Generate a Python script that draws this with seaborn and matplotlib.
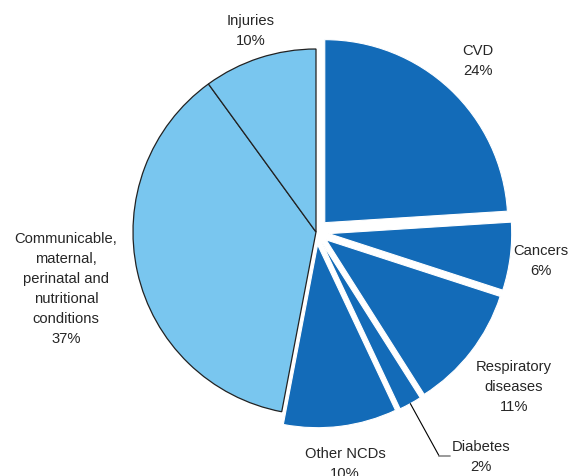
import numpy as np
import seaborn as sns
from matplotlib import pyplot as plt

categories = ["CVD", "Cancers", "Respiratory\ndiseases", "Diabetes", "Other NCDs",
              "Communicable,\nmaternal,\nperinatal and\nnutritional\nconditions", "Injuries"]
shares = [24, 6, 11, 2, 10, 37, 10]
is_ncd = [True, True, True, True, True, False, False]

DARK = "#136bb8"
LIGHT = "#79c6ef"

sns.set_theme(style="white")
plt.rcParams["font.family"] = ["Liberation Sans", "DejaVu Sans"]

fig = plt.figure(figsize=(5.77, 4.77), dpi=100)
ax = fig.add_axes([0, 0, 1, 1])

colors = [DARK if n else LIGHT for n in is_ncd]
explode = [0.07 if n else 0 for n in is_ncd]
wedges, _ = ax.pie(shares, colors=colors, explode=explode, startangle=90,
                   counterclock=False, radius=1)
for w, n in zip(wedges, is_ncd):
    if n:
        w.set_edgecolor("white")
        w.set_linewidth(0.8)
    else:
        w.set_edgecolor("#222222")
        w.set_linewidth(0.9)

# label distance from the centre, per slice
label_dist = [1.29, 1.24, 1.37, None, 1.27, 1.40, 1.16]
for w, cat, val, d in zip(wedges, categories, shares, label_dist):
    mid = np.deg2rad((w.theta1 + w.theta2) / 2)
    txt = f"{cat}\n{val}%"
    if d is None:
        # leader line for the thin diabetes slice
        x0, y0 = 1.07 * np.cos(mid), 1.07 * np.sin(mid)
        ye = -1.224
        xe = x0 + (ye - y0) / np.tan(mid)
        ax.plot([x0, xe], [y0, ye], color="black", lw=0.8)
        ax.plot([xe, xe + 0.06], [ye, ye], color="#888888", lw=1.2)
        ax.text(xe + 0.23, ye, txt, ha="center", va="center", fontsize=10.6,
                linespacing=1.55)
        continue
    ax.text(d * np.cos(mid), d * np.sin(mid), txt, ha="center", va="center",
            fontsize=10.6, linespacing=1.55)

ax.set_xlim(-316 / 183, (577 - 316) / 183)
ax.set_ylim(-(477 - 233) / 183, 233 / 183)
ax.set_aspect("auto")
ax.axis("off")

fig.savefig("out.png", dpi=100)
